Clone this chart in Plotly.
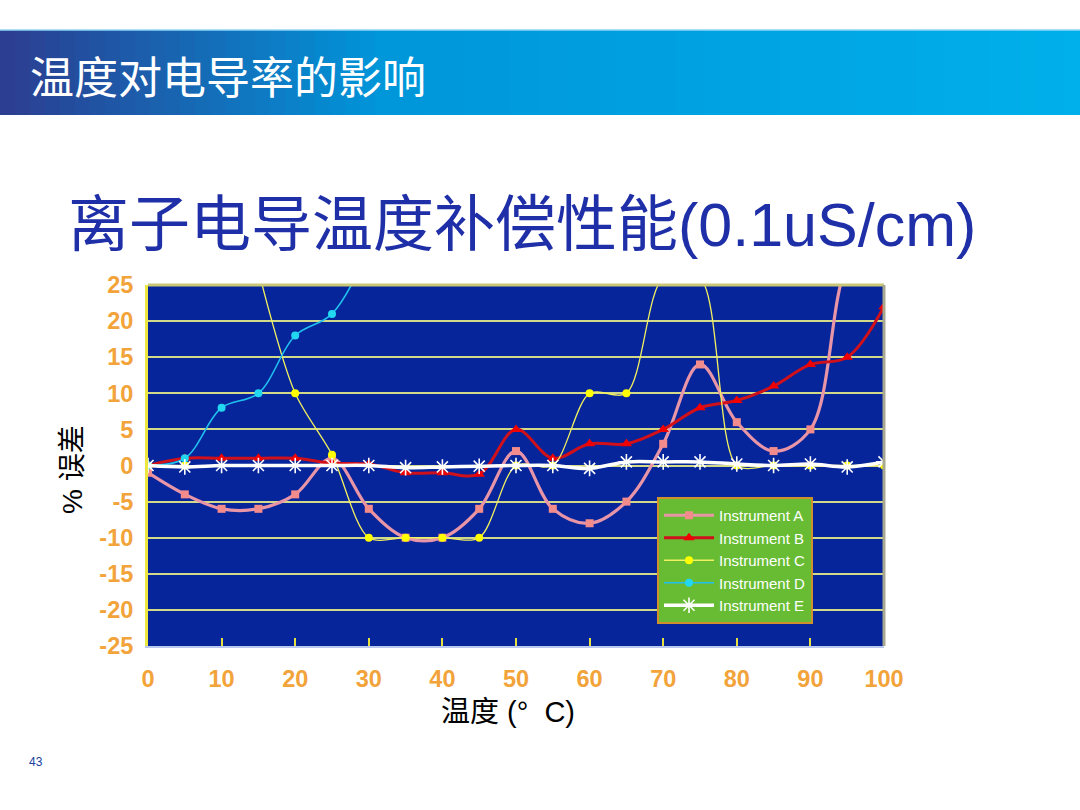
import plotly.graph_objects as go

# ---- data ----
temps = [0, 5, 10, 15, 20, 25, 30, 35, 40, 45, 50, 55, 60, 65, 70, 75, 80, 85, 90, 95, 100]
inst_a = [-1, -4, -6, -6, -4, 1, -6, -10, -10, -6, 2, -6, -8, -5, 3, 14, 6, 2, 5, 28, 35]
inst_b = [0, 1, 1, 1, 1, 0.3, 0.2, -1, -1, -1.2, 5, 1, 3, 3, 5, 8, 9, 11, 14, 15, 22]
inst_c = [0, 0, None, 27, 10, 1.5, -10, -10, -10, -10, 0, 0, 10, 10, 26, 26, 0, 0, 0, 0, 0]
temps_d = [0, 5, 10, 15, 20, 25, 30]
inst_d = [0, 1, 8, 10, 18, 21, 30]
inst_e = [0, -0.2, 0, 0, 0, 0, 0, -0.3, -0.2, -0.1, 0, 0, -0.4, 0.5, 0.5, 0.5, 0.2, 0, 0.2, -0.2, 0.5]
names = ["Instrument A", "Instrument B", "Instrument C", "Instrument D", "Instrument E"]
x_ticks = [0, 10, 20, 30, 40, 50, 60, 70, 80, 90, 100]
y_ticks = [25, 20, 15, 10, 5, 0, -5, -10, -15, -20, -25]

W, H = 1080, 810
L, R, T, B = 148, 884, 285, 646


def px(x):
    return (x - L) / (R - L)


def py(y):
    return (B - y) / (B - T)


fig = go.Figure()
fig.add_trace(go.Scatter(x=temps, y=inst_a, name=names[0], mode="lines+markers",
                         line=dict(color="#E895A8", width=3.2, shape="spline"),
                         marker=dict(symbol="square", size=8, color="#F28C8C")))
fig.add_trace(go.Scatter(x=temps, y=inst_b, name=names[1], mode="lines+markers",
                         line=dict(color="#D0101A", width=3, shape="spline"),
                         marker=dict(symbol="triangle-up", size=10, color="#F00000")))
fig.add_trace(go.Scatter(x=temps, y=inst_c, name=names[2], mode="lines+markers",
                         connectgaps=False,
                         line=dict(color="#F0F060", width=1.3, shape="spline", smoothing=0.85),
                         marker=dict(symbol="circle", size=8, color="#FFFF00")))
fig.add_trace(go.Scatter(x=temps_d, y=inst_d, name=names[3], mode="lines+markers",
                         line=dict(color="#20C0F0", width=1.6, shape="spline"),
                         marker=dict(symbol="circle", size=8, color="#22D8F0")))
fig.add_trace(go.Scatter(x=temps, y=inst_e, name=names[4], mode="lines+markers",
                         line=dict(color="#FFFFFF", width=3.5, shape="spline"),
                         marker=dict(symbol="asterisk-open", size=13, color="#FFFFFF",
                                     line=dict(color="#FFFFFF", width=1.6))))

shapes = []
# banner gradient
n = 72
c0 = (44, 62, 146)
c1 = (0, 150, 218)
c2 = (0, 176, 234)
for i in range(n):
    t = i / (n - 1)
    if t < 0.35:
        u = t / 0.35
        c = tuple(int(c0[k] + (c1[k] - c0[k]) * u) for k in range(3))
    else:
        u = (t - 0.35) / 0.65
        c = tuple(int(c1[k] + (c2[k] - c1[k]) * u) for k in range(3))
    x0 = W * i / n
    x1 = W * (i + 1) / n + 1
    shapes.append(dict(type="rect", xref="paper", yref="paper",
                       x0=px(x0), x1=px(x1), y0=py(115), y1=py(30),
                       fillcolor="rgb(%d,%d,%d)" % c, line=dict(width=0), layer="below"))
shapes.append(dict(type="line", xref="paper", yref="paper", x0=px(0), x1=px(W),
                   y0=py(30), y1=py(30), line=dict(color="#8FD4F4", width=1.5)))
# plot border top/right
shapes.append(dict(type="line", xref="paper", yref="paper", x0=0, x1=1, y0=1, y1=1,
                   line=dict(color="#C8C878", width=3)))
shapes.append(dict(type="line", xref="paper", yref="paper", x0=1, x1=1, y0=0, y1=1,
                   line=dict(color="#A8A890", width=3)))

annotations = [
    dict(text="温度对电导率的影响", x=px(28), y=py(75), xref="paper", yref="paper",
         xanchor="left", yanchor="middle", showarrow=False,
         font=dict(family="Noto Sans CJK SC", size=44, color="white")),
    dict(text="离子电导温度补偿性能(0.1uS/cm)", x=px(66), y=py(225), xref="paper", yref="paper",
         xanchor="left", yanchor="middle", showarrow=False,
         font=dict(family="Liberation Sans, Noto Sans CJK SC", size=61, color="#1E2FA8")),
    dict(text="% 误差", x=px(72), y=py(470), xref="paper", yref="paper", textangle=-90,
         xanchor="center", yanchor="middle", showarrow=False,
         font=dict(family="Liberation Sans, Noto Sans CJK SC", size=28, color="black")),
    dict(text="温度 (°  C)", x=px(508), y=py(712), xref="paper", yref="paper",
         xanchor="center", yanchor="middle", showarrow=False,
         font=dict(family="Liberation Sans, Noto Sans CJK SC", size=29, color="black")),
    dict(text="43", x=px(36), y=py(762), xref="paper", yref="paper",
         xanchor="center", yanchor="middle", showarrow=False,
         font=dict(family="Liberation Sans", size=12, color="#2040A0")),
]

tickfont = dict(family="Liberation Sans, Arial", size=23.5, color="#F2A33A", weight="bold")

fig.update_layout(
    width=W, height=H,
    margin=dict(l=L, r=W - R, t=T, b=H - B, pad=0),
    paper_bgcolor="white",
    plot_bgcolor="#07259A",
    shapes=shapes,
    annotations=annotations,
    showlegend=True,
    legend=dict(x=px(657), y=py(497), xanchor="left", yanchor="top",
                bgcolor="#68BC34", bordercolor="#D0902C", borderwidth=2,
                font=dict(family="Liberation Sans, Arial", size=15, color="white"),
                itemwidth=50, tracegroupgap=0),
    xaxis=dict(range=[0, 100], tickvals=x_ticks, ticktext=[str(v) for v in x_ticks],
               showgrid=False, zeroline=False, showline=True, linecolor="#B8C8F0", linewidth=2,
               ticks="inside", ticklen=8, tickcolor="#E8E040", tickwidth=1.5,
               tickfont=tickfont, ticklabelstandoff=11, fixedrange=True),
    yaxis=dict(range=[-25, 25], tickvals=y_ticks, ticktext=[str(v) for v in y_ticks],
               showgrid=True, gridcolor="#D2DA8A", gridwidth=2,
               zeroline=False, showline=True, linecolor="#ECE640", linewidth=3,
               ticks="", tickfont=tickfont, ticklabelstandoff=7, fixedrange=True),
)

fig.write_html("out.html", config={"displayModeBar": False},
               post_script="document.body.style.margin='0';document.body.style.padding='0';")
